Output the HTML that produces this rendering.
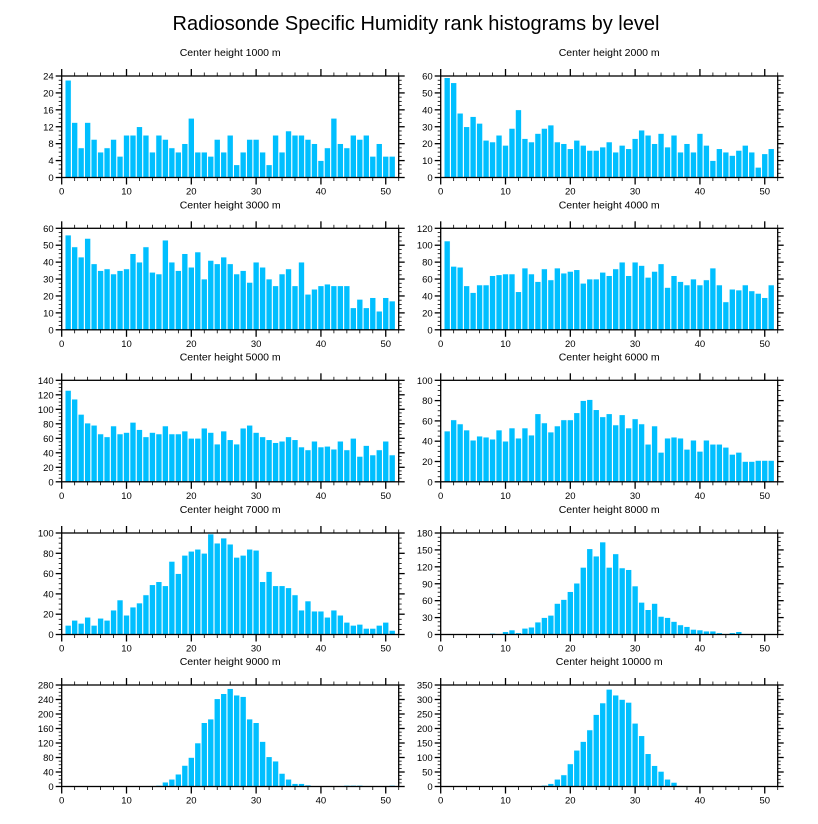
<!DOCTYPE html>
<html><head><meta charset="utf-8"><style>
body{margin:0;background:#fff;}
svg{display:block;font-family:"Liberation Sans",sans-serif;}
</style></head><body>
<svg id="chart" width="818" height="824" viewBox="0 0 818 824" xmlns="http://www.w3.org/2000/svg">
<rect width="818" height="824" fill="#fff"/>
<text x="416" y="30" font-size="20" text-anchor="middle" fill="#000">Radiosonde Specific Humidity rank histograms by level</text>
</svg>
<script>
const levels = ["1000","2000","3000","4000","5000","6000","7000","8000","9000","10000"];
const yMaxes = [24,60,60,120,140,100,100,180,280,350];
const ySteps = [4,10,10,20,20,20,20,30,40,50];
const xTickLabels = [0,10,20,30,40,50];
const h1000 = [23,13,7,13,9,6,7,9,5,10,10,12,10,6,10,9,7,6,8,14,6,6,5,9,6,10,3,6,9,9,6,3,10,6,11,10,10,9,8,4,7,14,8,7,10,9,10,5,8,5,5];
const h2000 = [59,56,38,30,36,32,22,21,25,19,29,40,23,21,26,29,31,21,20,17,22,19,16,16,18,21,15,19,17,23,28,25,20,26,18,25,15,20,15,26,19,10,17,15,13,16,19,15,6,14,17];
const h3000 = [56,49,43,54,39,35,36,33,35,36,45,40,49,34,33,53,40,35,45,37,46,30,41,39,43,39,33,35,28,40,37,30,26,33,36,26,40,21,24,26,27,26,26,26,13,18,13,19,11,19,17];
const h4000 = [105,75,74,52,44,53,53,64,65,66,66,45,73,66,57,72,59,73,67,69,71,55,60,60,68,64,72,80,64,80,76,62,69,78,50,64,57,53,60,53,59,73,53,33,48,47,53,46,43,38,53];
const h5000 = [126,114,93,81,78,66,62,77,66,68,82,72,62,68,66,77,66,66,70,60,60,74,68,52,70,58,52,74,78,68,62,58,54,56,62,58,48,44,56,48,49,45,56,44,60,35,50,37,44,56,37];
const h6000 = [50,61,57,51,41,45,44,42,51,40,53,43,53,46,67,58,49,55,61,61,68,80,81,71,64,67,56,66,53,62,57,37,55,29,43,44,43,32,41,30,41,37,37,34,27,29,20,20,21,21,21];
const h7000 = [9,14,11,17,9,16,14,24,34,19,27,31,39,49,52,48,72,60,78,82,84,80,99,90,95,89,76,78,84,83,52,62,48,48,46,39,24,33,23,23,17,24,19,12,9,10,6,6,9,12,4];
const h8000 = [0,0,0,0,1,0,0,2,1,5,8,3,11,13,22,30,34,55,62,76,91,119,152,139,164,119,143,118,115,86,57,44,55,32,30,23,17,14,9,8,6,6,3,1,3,5,1,0,0,0,1];
const h9000 = [0,0,0,0,0,0,0,0,0,0,0,0,0,2,3,12,20,34,58,80,120,176,186,242,256,270,252,248,186,176,124,82,70,36,20,8,8,4,1,2,2,2,2,3,3,3,2,2,2,2,3];
const h10000 = [0,0,0,0,0,0,0,0,0,0,0,0,0,0,0,4,10,25,40,78,125,155,195,248,288,335,315,300,290,218,175,113,72,52,25,14,3,3,2,2,2,2,1,1,2,2,2,2,2,0,0];
const allData = [h1000,h2000,h3000,h4000,h5000,h6000,h7000,h8000,h9000,h10000];

const NS="http://www.w3.org/2000/svg";
const svg=document.getElementById('chart');
function mk(tag,attrs,parent){const e=document.createElementNS(NS,tag);for(const k in attrs)e.setAttribute(k,attrs[k]);(parent||svg).appendChild(e);return e;}
const rowTops=[76,228.3,380.3,533,685];
const colLefts=[61.7,440.7];
const W=337, H=101.5, XMAX=52;

levels.forEach((lv,i)=>{
  const x0=colLefts[i%2], y0=rowTops[Math.floor(i/2)];
  const data=allData[i], ymax=yMaxes[i], step=ySteps[i];
  const xs=v=>x0+v/XMAX*W;
  const ys=v=>y0+H-v/ymax*H;
  const g=mk('g',{});
  
  
  const t=mk('text',{x:x0+W/2,y:y0-20,'font-size':'10.5','text-anchor':'middle',fill:'#000'},g);
  t.textContent='Center height '+lv+' m';
  
  
  data.forEach((v,j)=>{
    const c=j+1, bw=0.92;
    const r=mk('rect',{x:xs(c-bw/2),y:ys(v),width:xs(bw)-x0,height:Math.max(0,ys(0)-ys(v)),fill:'#00BFFF',stroke:'#fff','stroke-width':'0.6'},g);
    
    
  });
  const fr=mk('rect',{x:x0,y:y0,width:W,height:H,fill:'none',stroke:'#000','stroke-width':'1.3'},g);
  
  
  // x ticks
  for(let v=0;v<=XMAX;v+=2){
    const maj=v%10===0, L=maj?7:3.5, x=xs(v);
    mk('line',{x1:x,x2:x,y1:y0+H,y2:y0+H+L,stroke:'#000','stroke-width':maj?1.3:0.8},g);
    mk('line',{x1:x,x2:x,y1:y0,y2:y0-L,stroke:'#000','stroke-width':maj?1.3:0.8},g);
  }
  xTickLabels.forEach(v=>{
    const tl=mk('text',{x:xs(v),y:y0+H+17,'font-size':'9.5','text-anchor':'middle',fill:'#000'},g);
    tl.textContent=v;
    
    
  });
  // y ticks
  const mstep=step/4;
  for(let k=0;k*mstep<=ymax+1e-9;k++){
    const v=k*mstep, maj=k%4===0, L=maj?6:3, y=ys(v);
    mk('line',{x1:x0,x2:x0-L,y1:y,y2:y,stroke:'#000','stroke-width':maj?1.3:0.8},g);
    mk('line',{x1:x0+W,x2:x0+W+L,y1:y,y2:y,stroke:'#000','stroke-width':maj?1.3:0.8},g);
    if(maj){
      const yl=mk('text',{x:x0-8,y:y+3.5,'font-size':'9.5','text-anchor':'end',fill:'#000'},g);
      yl.textContent=v;
      
      
    }
  }
});
</script>
</body></html>
